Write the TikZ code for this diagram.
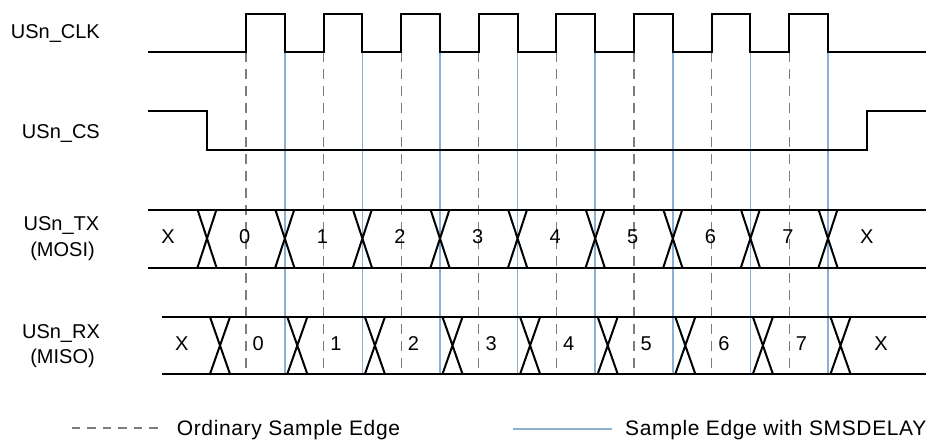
\documentclass[tikz,border=0pt]{standalone}
\usepackage{fontspec}
\setmainfont{Liberation Sans}
\newfontfamily\legfont[LetterSpace=3]{Liberation Sans}
\definecolor{sampleblue}{RGB}{140,176,210}
\definecolor{dashgray}{RGB}{125,125,125}
\begin{document}
\begin{tikzpicture}[x=1pt,y=-1pt,
  sig/.style={line width=2pt, line join=miter, black},
  ordinary/.style={draw=dashgray, line width=1.3pt, dash pattern=on 10pt off 7pt},
  delayed/.style={draw=sampleblue, line width=1.6pt},
  lbl/.style={font=\fontsize{20}{24}\selectfont, inner sep=0pt},
  leg/.style={font=\legfont\fontsize{21}{24}\selectfont, inner sep=0pt}]
\useasboundingbox (0,0) rectangle (928,441);
% sample edges
\foreach \k in {0,...,7}{
  \draw[ordinary] ({246+77.6*\k},52) -- ({246+77.6*\k},372);
  \draw[delayed] ({284.8+77.6*\k},52) -- ({284.8+77.6*\k},374);
}
% clock
\draw[sig] (148,52) \foreach \k in {0,...,7}{
  -- ({246+77.6*\k},52) -- ({246+77.6*\k},14) -- ({284.8+77.6*\k},14) -- ({284.8+77.6*\k},52)} -- (926,52);
% chip select
\draw[sig] (148,111) -- (207,111) -- (207,150) -- (867,150) -- (867,111) -- (926,111);
% TX bus
\draw[sig] (148,209.5) -- (926,209.5);
\draw[sig] (148,267.5) -- (926,267.5);
\foreach \c in {207,284.8,362.4,440,517.6,595.2,672.8,750.4,828}{
  \draw[sig] ({\c-9.5},209.5) -- ({\c+9.5},267.5) ({\c-9.5},267.5) -- ({\c+9.5},209.5);
}
% RX bus
\draw[sig] (161.7,317) -- (926,317);
\draw[sig] (161.7,374) -- (926,374);
\foreach \c in {220,297.3,374.9,452.5,530.1,607.7,685.3,762.9,840.5}{
  \draw[sig] ({\c-10},317) -- ({\c+10},374) ({\c-10},374) -- ({\c+10},317);
}
% TX / RX data labels
\node[lbl, anchor=base] (txx0) at (168,243) {X};
\node[lbl, anchor=base] (txx1) at (866.7,243) {X};
\node[lbl, anchor=base] (rxx0) at (181.7,350.5) {X};
\node[lbl, anchor=base] (rxx1) at (881,350.5) {X};
\foreach \k in {0,...,7}{
  \node[lbl, anchor=base] (tx\k) at ({244.8+77.6*\k},243) {\k};
  \node[lbl, anchor=base] (rx\k) at ({258.3+77.6*\k},350.5) {\k};
}
% signal names
\node[lbl, anchor=base east] (clkname) at (100,38.3) {USn\_CLK};
\node[lbl, anchor=base east] (csname) at (100,138.3) {USn\_CS};
\node[lbl, anchor=base] (txname) at (61.5,230.7) {USn\_TX};
\node[lbl, anchor=base] (txsub) at (62.5,256.7) {(MOSI)};
\node[lbl, anchor=base] (rxname) at (61,338.3) {USn\_RX};
\node[lbl, anchor=base] (rxsub) at (62.5,363.3) {(MISO)};
% legend
\coordinate (l1a) at (71.7,428);
\coordinate (l1b) at (163,428);
\draw[ordinary, line width=1.2pt, dash pattern=on 8.5pt off 7pt] (l1a) -- (l1b);
\node[leg, anchor=base west] (leg1) at (176.7,435) {Ordinary Sample Edge};
\coordinate (l2a) at (513,429);
\coordinate (l2b) at (611.7,429);
\draw[delayed] (l2a) -- (l2b);
\node[leg, anchor=base west] (leg2) at (625,435) {Sample Edge with SMSDELAY};
\end{tikzpicture}
\end{document}
